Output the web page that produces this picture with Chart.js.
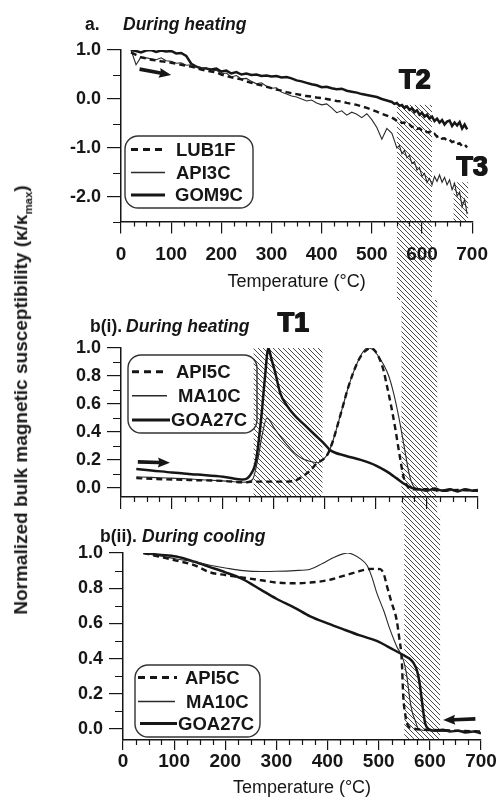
<!DOCTYPE html>
<html>
<head>
<meta charset="utf-8">
<script src="https://cdn.jsdelivr.net/npm/chart.js@4.4.1/dist/chart.umd.min.js"></script>
<style>
  html, body { margin: 0; padding: 0; background: #fff; }
  #wrap { position: relative; width: 498px; height: 809px; overflow: hidden; }
  #wrap canvas { position: absolute; left: 0; }
  #ytitle {
    position: absolute; left: 22px; top: 400px;
    transform: translate(-50%, -50%) rotate(-90deg);
    white-space: nowrap; color: #1a1a1a;
    font: bold 19px "Liberation Sans", Arial, sans-serif;
  }
  #ytitle sub { font-size: 0.6em; }
</style>
</head>
<body>
<div id="wrap">
  <canvas id="chartA" width="498" height="300" style="top:0"></canvas>
  <canvas id="chartB" width="498" height="215" style="top:300px"></canvas>
  <canvas id="chartC" width="498" height="294" style="top:515px"></canvas>
  <div id="ytitle">Normalized bulk magnetic susceptibility (κ/κ<sub>max</sub>)</div>
</div>
<script>
// Thermomagnetic curves: normalised susceptibility vs temperature

const FONT = '"Liberation Sans", Arial, sans-serif';
const INK = '#161616';

// axes
const xTicks = [0, 100, 200, 300, 400, 500, 600, 700];
const yTicksA = [-2, -1, 0, 1];
const minorYA = [0.5, -0.5, -1.5, -2.5];
const yTicksB = [0, 0.2, 0.4, 0.6, 0.8, 1];
const minorYB = [0.1, 0.3, 0.5, 0.7, 0.9];

// a. during heating
const tempA = [20, 30, 40, 50, 60, 70, 80, 90, 100, 110,
  120, 130, 140, 150, 160, 170, 180, 190, 200, 210,
  220, 230, 240, 250, 260, 270, 280, 290, 300, 310,
  320, 330, 340, 350, 360, 370, 380, 390, 400, 410,
  420, 430, 440, 450, 460, 470, 480, 490, 500, 510,
  520, 530, 540,
  545, 550, 555, 560, 565, 570, 575, 580, 585, 590,
  595, 600, 605, 610, 615, 620, 625, 630, 635, 640,
  645, 650, 655, 660, 665, 670, 675, 680, 685, 690];
const lub1f = [0.95, 0.9, 0.85, 0.83, 0.8, 0.79, 0.77, 0.76, 0.74, 0.72,
  0.7, 0.68, 0.66, 0.63, 0.6, 0.58, 0.56, 0.54, 0.5, 0.47,
  0.44, 0.42, 0.4, 0.36, 0.33, 0.3, 0.28, 0.25, 0.22, 0.19,
  0.17, 0.14, 0.12, 0.1, 0.08, 0.06, 0.05, 0.03, 0.02, 0.0,
  -0.02, -0.04, -0.05, -0.08, -0.1, -0.12, -0.15, -0.18, -0.22, -0.26,
  -0.3, -0.34, -0.38,
  -0.41, -0.45, -0.44, -0.49, -0.48, -0.53, -0.52, -0.57, -0.56, -0.61,
  -0.6, -0.64, -0.63, -0.68, -0.67, -0.72, -0.71, -0.77, -0.75, -0.81,
  -0.8, -0.85, -0.83, -0.88, -0.86, -0.92, -0.9, -0.96, -0.93, -0.99];
const api3c = [1.0, 0.7, 0.86, 0.84, 0.82, 0.8, 0.84, 0.78, 0.77, 0.73,
  0.74, 0.69, 0.7, 0.65, 0.62, 0.64, 0.57, 0.59, 0.51, 0.53,
  0.45, 0.48, 0.41, 0.42, 0.36, 0.31, 0.33, 0.26, 0.22, 0.23,
  0.14, 0.1, 0.06, 0.04, 0.0, -0.04, -0.02, -0.08, -0.12, -0.1,
  -0.18, -0.28, -0.24, -0.33, -0.27, -0.31, -0.38, -0.3, -0.42, -0.58,
  -0.82, -0.6, -0.7,
  -0.85, -1.0, -0.95, -1.12, -1.05, -1.2, -1.15, -1.32, -1.28, -1.45,
  -1.4, -1.58, -1.52, -1.7, -1.62, -1.75, -1.58, -1.68, -1.55, -1.7,
  -1.6, -1.75, -1.65, -1.85, -1.72, -1.98, -1.9, -2.2, -2.05, -2.35];
const gom9c = [1.0, 0.98, 0.95, 0.99, 1.0, 0.96, 0.99, 0.97, 0.98, 0.93,
  0.94, 0.88, 0.72, 0.66, 0.63, 0.62, 0.6, 0.62, 0.56, 0.58,
  0.52, 0.55, 0.5, 0.52, 0.49, 0.5, 0.47, 0.48, 0.46, 0.47,
  0.44, 0.45, 0.42, 0.38, 0.36, 0.33, 0.3, 0.28, 0.24, 0.25,
  0.22, 0.2, 0.21, 0.17, 0.15, 0.13, 0.1, 0.08, 0.06, 0.04,
  0.0, -0.03, -0.06,
  -0.1, -0.08, -0.14, -0.12, -0.18, -0.15, -0.22, -0.19, -0.27, -0.23,
  -0.32, -0.28, -0.36, -0.32, -0.4, -0.36, -0.45, -0.4, -0.48, -0.43,
  -0.52, -0.46, -0.44, -0.55, -0.48, -0.54, -0.47, -0.6, -0.52, -0.62];

// b(i). during heating
const api5cHeatT = [30, 60, 100, 150, 200, 240, 260, 280, 300, 320,
  340, 355, 370, 385, 395, 405, 415, 424, 434, 444,
  454, 464, 474, 483, 490, 498, 506, 514, 522, 530,
  538, 546, 554, 562, 570, 600, 630, 660, 700];
const api5cHeat = [0.07, 0.065, 0.06, 0.055, 0.05, 0.04, 0.045, 0.045, 0.045, 0.045,
  0.05, 0.08, 0.12, 0.18, 0.2, 0.24, 0.33, 0.44, 0.57, 0.7,
  0.81, 0.9, 0.96, 0.99, 1.0, 0.98, 0.93, 0.85, 0.72, 0.58,
  0.42, 0.24, 0.08, 0.01, -0.01, -0.01, -0.02, -0.015, -0.02];
const ma10cHeatT = [30, 60, 100, 150, 200, 240, 258, 268, 278, 286,
  292, 300, 312, 325, 340, 355, 370, 385, 395, 405,
  415, 424, 434, 444, 454, 464, 474, 483, 493, 503,
  515, 525, 535, 545, 555, 565, 572, 580, 600, 620,
  640, 660, 680, 700];
const ma10cHeat = [0.08, 0.075, 0.07, 0.06, 0.05, 0.04, 0.06, 0.2, 0.4, 0.5,
  0.48, 0.43, 0.37, 0.31, 0.25, 0.21, 0.19, 0.18, 0.2, 0.24,
  0.33, 0.44, 0.57, 0.7, 0.81, 0.9, 0.97, 1.0, 0.99, 0.95,
  0.88, 0.8, 0.67, 0.5, 0.3, 0.1, 0.02, -0.01, -0.02, -0.01,
  -0.02, -0.015, -0.02, -0.02];
const goa27cHeatT = [30, 60, 100, 150, 200, 240, 255, 265, 275, 282,
  289, 295, 302, 312, 325, 340, 360, 380, 400, 410,
  440, 470, 500, 520, 540, 555, 570, 585, 600, 615,
  630, 645, 660, 675, 690, 700];
const goa27cHeat = [0.135, 0.125, 0.11, 0.095, 0.08, 0.06, 0.1, 0.2, 0.5, 0.78,
  1.0, 0.92, 0.83, 0.68, 0.59, 0.52, 0.45, 0.38, 0.31, 0.27,
  0.23, 0.2, 0.16, 0.12, 0.07, 0.03, 0.0, -0.01, -0.02, -0.005,
  -0.02, -0.01, -0.025, -0.01, -0.02, -0.015];

// b(ii). during cooling
const api5cCoolT = [40, 70, 104, 140, 170, 200, 235, 270, 300, 335,
  366, 400, 431, 455, 477, 490, 503, 510, 516, 525,
  535, 540, 545, 548, 552, 555, 565, 600, 650, 700];
const api5cCool = [1.0, 0.98, 0.957, 0.93, 0.89, 0.875, 0.86, 0.845, 0.832, 0.828,
  0.832, 0.845, 0.87, 0.89, 0.908, 0.91, 0.908, 0.88, 0.813, 0.72,
  0.62, 0.52, 0.394, 0.185, 0.08, 0.033, 0.004, -0.005, -0.01, -0.015];
const ma10cCoolT = [40, 70, 104, 140, 170, 200, 235, 270, 300, 335,
  366, 390, 412, 430, 440, 451, 465, 477, 487, 496,
  510, 522, 535, 548, 555, 561, 566, 571, 578, 600,
  630, 660, 700];
const ma10cCool = [1.0, 0.985, 0.966, 0.95, 0.93, 0.915, 0.9, 0.895, 0.896, 0.9,
  0.908, 0.94, 0.975, 0.995, 1.0, 0.99, 0.965, 0.93, 0.86, 0.775,
  0.67, 0.566, 0.47, 0.394, 0.3, 0.165, 0.09, 0.05, 0.0, -0.01,
  -0.015, -0.01, -0.02];
const goa27cCoolT = [40, 70, 104, 140, 170, 200, 235, 270, 300, 335,
  366, 400, 431, 465, 496, 529, 548, 560, 568, 575,
  580, 584, 588, 591, 597, 610, 625, 640, 655, 670,
  685, 700];
const goa27cCool = [1.0, 0.99, 0.98, 0.95, 0.92, 0.89, 0.85, 0.79, 0.74, 0.69,
  0.64, 0.6, 0.566, 0.53, 0.5, 0.45, 0.42, 0.4, 0.375, 0.33,
  0.26, 0.17, 0.08, 0.03, 0.0, -0.01, -0.005, -0.015, -0.01, -0.02,
  -0.015, -0.025];

const lineKinds = {
  dashed: { borderColor: INK, borderWidth: 2.4, borderDash: [6, 4] },
  thin: { borderColor: '#2a2a2a', borderWidth: 1.1 },
  thick: { borderColor: INK, borderWidth: 2.5 }
};

function series(label, temps, vals, kind, smooth) {
  return Object.assign({
    label: label,
    data: temps.map((t, i) => ({ x: t, y: vals[i] })),
    pointRadius: 0,
    fill: false,
    tension: 0,
    cubicInterpolationMode: smooth ? 'monotone' : 'default'
  }, lineKinds[kind]);
}

function hatchPattern(ctx) {
  const s = 5;
  const c = document.createElement('canvas');
  c.width = s; c.height = s;
  const g = c.getContext('2d');
  g.strokeStyle = '#4a4a4a';
  g.lineWidth = 1;
  g.beginPath();
  g.moveTo(-1, -1); g.lineTo(s + 1, s + 1);
  g.moveTo(-1, s - 1); g.lineTo(1, s + 1);
  g.moveTo(s - 1, -1); g.lineTo(s + 1, 1);
  g.stroke();
  return ctx.createPattern(c, 'repeat');
}

function drawArrow(ctx, x0, y0, x1, y1) {
  const a = Math.atan2(y1 - y0, x1 - x0);
  const len = Math.hypot(x1 - x0, y1 - y0);
  ctx.save();
  ctx.translate(x0, y0);
  ctx.rotate(a);
  ctx.fillStyle = INK;
  ctx.beginPath();
  ctx.moveTo(0, -1.8); ctx.lineTo(len - 11, -1.8); ctx.lineTo(len - 12, -5);
  ctx.lineTo(len, 0);
  ctx.lineTo(len - 12, 5); ctx.lineTo(len - 11, 1.8); ctx.lineTo(0, 1.8);
  ctx.closePath();
  ctx.fill();
  ctx.restore();
}

// hatched bands, minor ticks, boxed legend, arrows and labels
const deco = {
  id: 'deco',
  beforeDraw(chart, args, o) {
    const { ctx, scales: { x, y } } = chart;
    ctx.save();
    ctx.fillStyle = hatchPattern(ctx);
    (o.bands || []).forEach(b => {
      const l = x.getPixelForValue(b.from);
      const r = x.getPixelForValue(b.to);
      const t = b.top == null ? 0 : y.getPixelForValue(b.top);
      const btm = b.bottom == null ? chart.height : y.getPixelForValue(b.bottom);
      ctx.fillRect(l, t, r - l, btm - t);
    });
    ctx.restore();
  },
  afterDraw(chart, args, o) {
    const { ctx, chartArea: area, scales: { x, y } } = chart;
    ctx.save();
    ctx.strokeStyle = INK;
    ctx.lineWidth = 1.2;
    ctx.beginPath();
    for (let v = 25; v < 700; v += 25) {
      if (v % 100 === 0) continue;
      const px = Math.round(x.getPixelForValue(v)) + 0.5;
      ctx.moveTo(px, area.bottom); ctx.lineTo(px, area.bottom + 5);
    }
    o.minorY.forEach(v => {
      const py = Math.round(y.getPixelForValue(v)) + 0.5;
      ctx.moveTo(area.left - 8, py); ctx.lineTo(area.left, py);
    });
    ctx.stroke();

    // legend
    const lg = o.legend;
    ctx.lineWidth = 1.4;
    ctx.strokeStyle = '#333';
    ctx.beginPath();
    ctx.roundRect(lg.x, lg.y, lg.w, lg.h, 13);
    ctx.stroke();
    chart.data.datasets.forEach((ds, i) => {
      const row = lg.rows[i];
      ctx.save();
      ctx.strokeStyle = ds.borderColor;
      ctx.lineWidth = ds.borderWidth + 0.5;
      ctx.setLineDash(ds.borderDash ? [7, 5] : []);
      ctx.beginPath();
      ctx.moveTo(row.x0, row.y); ctx.lineTo(row.x1, row.y);
      ctx.stroke();
      ctx.restore();
      ctx.fillStyle = INK;
      ctx.font = 'bold 18.5px ' + FONT;
      ctx.textBaseline = 'middle';
      ctx.textAlign = 'left';
      ctx.fillText(ds.label, row.tx, row.y + 1);
    });

    // panel title
    o.title.forEach(p => {
      ctx.fillStyle = INK;
      ctx.font = (p.italic ? 'italic ' : '') + 'bold 17.5px ' + FONT;
      ctx.textBaseline = 'alphabetic';
      ctx.textAlign = 'left';
      ctx.fillText(p.text, p.x, p.y);
    });

    // transition labels, heavy weight by overprinting
    (o.marks || []).forEach(m => {
      const px = x.getPixelForValue(m.x), py = y.getPixelForValue(m.y);
      ctx.font = 'bold 27px ' + FONT;
      ctx.textAlign = 'center';
      ctx.textBaseline = 'middle';
      ctx.fillStyle = INK;
      [[-0.6, -0.4], [0.6, -0.4], [-0.6, 0.4], [0.6, 0.4]].forEach(d => {
        ctx.fillText(m.text, px + d[0], py + d[1]);
      });
    });

    (o.arrows || []).forEach(a => {
      drawArrow(ctx, x.getPixelForValue(a.from[0]), y.getPixelForValue(a.from[1]),
        x.getPixelForValue(a.to[0]), y.getPixelForValue(a.to[1]));
    });
    ctx.restore();
  }
};

function makeChart(id, cfg) {
  return new Chart(document.getElementById(id), {
    type: 'line',
    data: { datasets: cfg.datasets },
    plugins: [deco],
    options: {
      responsive: false,
      animation: false,
      devicePixelRatio: 1,
      layout: { padding: cfg.padding },
      plugins: {
        legend: { display: false },
        tooltip: { enabled: false },
        deco: cfg.deco
      },
      scales: {
        x: {
          type: 'linear', min: 0, max: 700,
          afterBuildTicks: s => { s.ticks = xTicks.map(v => ({ value: v })); },
          afterFit: s => { s.height = cfg.xHeight; },
          grid: { drawOnChartArea: false, tickLength: cfg.xTickLen, color: INK, lineWidth: 1.2 },
          border: { color: INK, width: 1.5 },
          ticks: {
            display: cfg.xLabels, padding: cfg.xPad, autoSkip: false, maxRotation: 0,
            color: INK, font: { family: FONT, size: 19, weight: 'bold' },
            callback: v => String(v)
          },
          title: {
            display: cfg.xLabels, text: 'Temperature (°C)', color: INK,
            font: { family: FONT, size: 18 },
            padding: { top: 0, bottom: cfg.xTitlePad }
          }
        },
        y: {
          min: cfg.yMin, max: cfg.yMax,
          afterBuildTicks: s => { s.ticks = cfg.yTicks.map(v => ({ value: v })); },
          afterFit: s => { s.width = cfg.left; },
          grid: { drawOnChartArea: false, tickLength: 14, color: INK, lineWidth: 1.2 },
          border: { color: INK, width: 1.5 },
          ticks: {
            padding: 6, color: INK,
            font: { family: FONT, size: 18, weight: 'bold' },
            callback: v => v.toFixed(1)
          }
        }
      }
    }
  });
}

makeChart('chartA', {
  datasets: [
    series('LUB1F', tempA, lub1f, 'dashed', false),
    series('API3C', tempA, api3c, 'thin', false),
    series('GOM9C', tempA, gom9c, 'thick', false)
  ],
  padding: { top: 50, right: 21, bottom: 0, left: 0 },
  left: 121, xHeight: 78.5, xTickLen: 12, xPad: 10, xLabels: true, xTitlePad: 7,
  yMin: -2.5, yMax: 1, yTicks: yTicksA,
  deco: {
    minorY: minorYA,
    bands: [
      { from: 550, to: 620, top: -0.12, bottom: null },
      { from: 663, to: 692, top: -1.7, bottom: -2.5 }
    ],
    legend: {
      x: 125, y: 136, w: 128, h: 72,
      rows: [
        { y: 149.5, x0: 131, x1: 165, tx: 176 },
        { y: 172.5, x0: 131, x1: 165, tx: 176 },
        { y: 195, x0: 131, x1: 165, tx: 175 }
      ]
    },
    title: [
      { text: 'a.', x: 85, y: 30 },
      { text: 'During heating', x: 123, y: 30, italic: true }
    ],
    marks: [
      { text: 'T2', x: 586, y: 0.37 },
      { text: 'T3', x: 700, y: -1.41 }
    ],
    arrows: [{ from: [37, 0.61], to: [100, 0.49] }]
  }
});

makeChart('chartB', {
  datasets: [
    series('API5C', api5cHeatT, api5cHeat, 'dashed', true),
    series('MA10C', ma10cHeatT, ma10cHeat, 'thin', true),
    series('GOA27C', goa27cHeatT, goa27cHeat, 'thick', true)
  ],
  padding: { top: 48, right: 20, bottom: 0, left: 0 },
  left: 121, xHeight: 18, xTickLen: 12, xPad: 0, xLabels: false, xTitlePad: 0,
  yMin: -0.065, yMax: 1, yTicks: yTicksB,
  deco: {
    minorY: minorYB,
    bands: [
      { from: 260, to: 395, top: 1.0, bottom: -0.065 },
      { from: 550, to: 620, top: null, bottom: null }
    ],
    legend: {
      x: 128, y: 55, w: 129, h: 78,
      rows: [
        { y: 71.7, x0: 132, x1: 167, tx: 176 },
        { y: 95.8, x0: 132, x1: 167, tx: 178 },
        { y: 120, x0: 132, x1: 170, tx: 171 }
      ]
    },
    title: [
      { text: 'b(i).', x: 90, y: 32 },
      { text: 'During heating', x: 126, y: 32, italic: true }
    ],
    marks: [{ text: 'T1', x: 338, y: 1.17 }],
    arrows: [{ from: [33, 0.186], to: [96, 0.18] }]
  }
});

makeChart('chartC', {
  datasets: [
    series('API5C', api5cCoolT, api5cCool, 'dashed', true),
    series('MA10C', ma10cCoolT, ma10cCool, 'thin', true),
    series('GOA27C', goa27cCoolT, goa27cCool, 'thick', true)
  ],
  padding: { top: 38, right: 17, bottom: 0, left: 0 },
  left: 123, xHeight: 69, xTickLen: 10, xPad: 0, xLabels: true, xTitlePad: 10,
  yMin: -0.063, yMax: 1, yTicks: yTicksB,
  deco: {
    minorY: minorYB,
    bands: [{ from: 550, to: 620, top: null, bottom: -0.063 }],
    legend: {
      x: 135, y: 150, w: 125, h: 72,
      rows: [
        { y: 162.5, x0: 138, x1: 177, tx: 185 },
        { y: 186.5, x0: 138, x1: 175, tx: 186 },
        { y: 208.5, x0: 140, x1: 177, tx: 178 }
      ]
    },
    title: [
      { text: 'b(ii).', x: 100, y: 27 },
      { text: 'During cooling', x: 142, y: 27, italic: true }
    ],
    arrows: [{ from: [689, 0.057], to: [626, 0.05] }]
  }
});
</script>
</body>
</html>
